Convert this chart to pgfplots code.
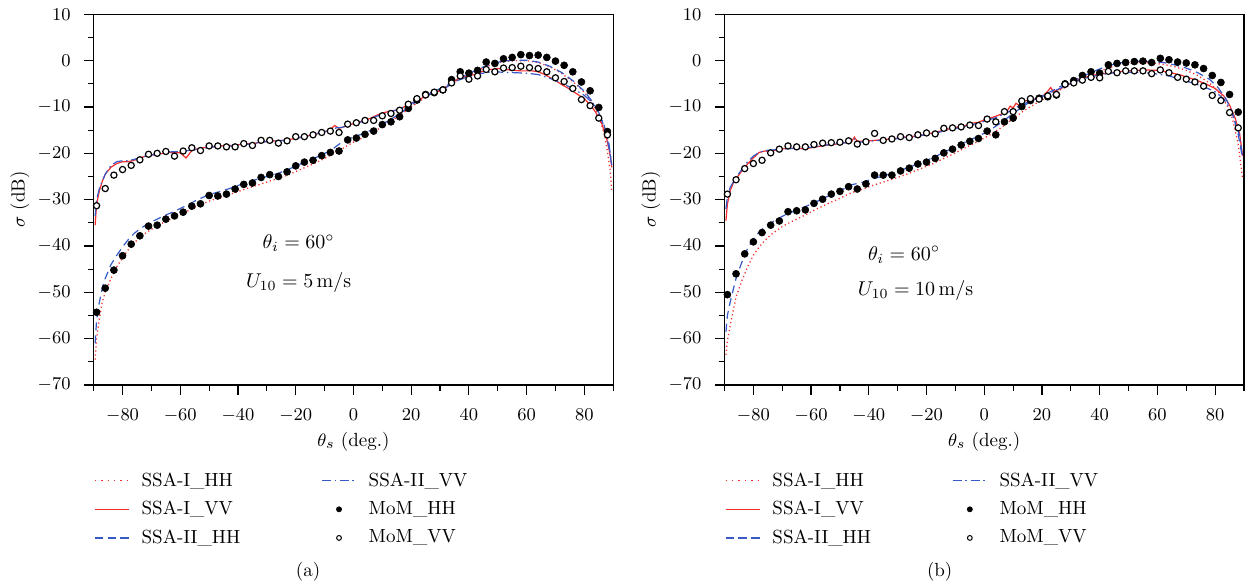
\documentclass[border=0pt]{standalone}
\usepackage{pgfplots}
\pgfplotsset{compat=1.18}
\definecolor{myred}{RGB}{245,45,45}
\definecolor{myblue}{RGB}{55,90,200}
\pgfplotsset{
  panel/.style={
    scale only axis, width=259.75pt, height=185.35pt,
    xmin=-90, xmax=90, ymin=-70, ymax=10,
    xtick={-80,-60,...,80}, minor xtick={-90,-70,...,90},
    ytick={-70,-60,...,10}, minor ytick={-65,-55,...,5},
    tick align=outside, tick pos=left,
    major tick length=5pt, minor tick length=3pt,
    every tick/.append style={black, line width=0.6pt},
    axis line style={line width=0.6pt},
    tick label style={font=\fontsize{9.5}{11}\selectfont},
    xticklabel style={yshift=-3.5pt},
    yticklabel style={xshift=-3pt},
    label style={font=\fontsize{9.5}{11}\selectfont},
    xlabel={$\theta_s$ (deg.)}, ylabel={$\sigma$ (dB)},
    xlabel style={at={([yshift=-28.5pt]axis description cs:0.5,0)}, anchor=center},
    ylabel style={at={([xshift=-36.85pt]axis description cs:0,0.5)}, anchor=center},
    legend columns=2, legend cell align=left,
    legend style={draw=none, fill=none, inner sep=0pt,
      at={(axis description cs:0,0)}, anchor=north west, yshift=-41.5pt,
      font=\fontsize{9.5}{11}\selectfont, row sep=2pt,
      /tikz/every odd column/.append style={column sep=4pt},
      /tikz/every even column/.append style={column sep=38.5pt}},
  },
  ssaIhh/.style={color=myred, line width=0.65pt, dash pattern=on 0.6pt off 1.4pt},
  ssaIvv/.style={color=myred, line width=0.6pt, solid},
  ssaIIhh/.style={color=myblue, line width=0.6pt, dash pattern=on 4pt off 2.5pt},
  ssaIIvv/.style={color=myblue, line width=0.6pt, dash pattern=on 5pt off 1.8pt on 0.8pt off 1.8pt},
  momhh/.style={only marks, mark=*, mark size=1.75pt, mark options={fill=black, draw=black, line width=0.3pt, solid}},
  momvv/.style={only marks, mark=*, mark size=1.55pt, mark options={fill=white, draw=black, line width=0.6pt, solid}},
  mylegend/.code={
    \addlegendimage{legend image code/.code={\path[draw=none] (0cm,0cm); \draw[draw=myred, line width=0.7pt, dash pattern=on 0.7pt off 2.5pt] (0cm,0cm) -- (0.6cm,0cm); \draw[draw=myred, line width=0.7pt, dash pattern=on 0.7pt off 2.5pt] (0cm,0cm) -- (0.6cm,0cm);}}\addlegendentry{SSA-I\_HH}
    \addlegendimage{legend image code/.code={\path[draw=none] (0cm,0cm); \draw[draw=myblue, line width=0.6pt, dash pattern=on 4.5pt off 1.8pt on 0.8pt off 1.8pt] (0cm,0cm) -- (0.6cm,0cm); \draw[draw=myblue, line width=0.6pt, dash pattern=on 4.5pt off 1.8pt on 0.8pt off 1.8pt] (0cm,0cm) -- (0.6cm,0cm);}}\addlegendentry{SSA-II\_VV}
    \addlegendimage{legend image code/.code={\path[draw=none] (0cm,0cm); \draw[draw=myred, line width=0.65pt] (0cm,0cm) -- (0.6cm,0cm); \draw[draw=myred, line width=0.65pt] (0cm,0cm) -- (0.6cm,0cm);}}\addlegendentry{SSA-I\_VV}
    \addlegendimage{only marks, mark=*, mark size=1.25pt, mark options={fill=black}}\addlegendentry{MoM\_HH}
    \addlegendimage{legend image code/.code={\path[draw=none] (0cm,0cm); \draw[draw=myblue, line width=0.6pt, dash pattern=on 4.2pt off 2.2pt] (0cm,0cm) -- (0.6cm,0cm); \draw[draw=myblue, line width=0.6pt, dash pattern=on 4.2pt off 2.2pt] (0cm,0cm) -- (0.6cm,0cm);}}\addlegendentry{SSA-II\_HH}
    \addlegendimage{only marks, mark=*, mark size=1.2pt, mark options={fill=white, draw=black, line width=0.5pt}}\addlegendentry{MoM\_VV}
  },
}
\begin{document}
\begin{tikzpicture}
\path[use as bounding box] (-46.85pt,-100.5pt) rectangle (578.65pt,192.5pt);
% ---------------- panel (a)
\begin{axis}[panel, name=a, at={(0pt,0pt)}, anchor=south west]
\addplot[ssaIhh, forget plot] coordinates {
(-89.5,-64.5)(-89,-60)(-88,-55.5)(-87,-52)(-86,-50)(-84,-47)(-82,-44.5)(-80,-42.5)(-78,-40.8)(-76,-39.3)(-74,-38.2)(-72,-37.2)(-70,-36.4)(-66,-35.0)(-62,-33.8)(-58,-32.6)(-54,-31.4)(-50,-30.3)(-46,-29.5)(-42,-28.7)(-38,-27.8)(-34,-27.0)(-30,-26.2)(-26,-25.4)(-22,-24.5)(-18,-23.4)(-14,-22.3)(-10,-21.1)(-6,-19.8)(-2,-18.3)(0,-17.6)(4,-16.4)(8,-15.0)(12,-13.5)(16,-11.8)(20,-10.0)(24,-8.3)(28,-6.9)(32,-5.6)(36,-4.2)(40,-3.0)(44,-1.8)(48,-0.8)(52,-0.2)(56,0.0)(60,0.0)(64,-0.4)(68,-1.3)(72,-2.7)(76,-4.5)(80,-6.8)(83,-9.3)(85,-11.8)(87,-16)(88,-19.5)(89,-24)(89.5,-28.3)};
\addplot[ssaIvv, forget plot] coordinates {
(-89.5,-35.5)(-89,-31)(-88,-28)(-87,-26)(-86,-24.5)(-84,-23)(-82,-22.2)(-80,-21.8)(-78,-21.8)(-76,-21.5)(-74,-21.0)(-72,-20.6)(-70,-20.4)(-68,-20.2)(-66,-20.0)(-64,-19.8)(-62,-19.8)(-60,-19.9)(-58,-21.0)(-56,-19.4)(-54,-19.0)(-50,-18.6)(-46,-18.4)(-42,-18.3)(-38,-18.0)(-34,-17.8)(-30,-17.4)(-26,-17.3)(-22,-17.0)(-18,-16.5)(-14,-16.0)(-10,-15.4)(-8,-14.8)(-6.5,-14.0)(-5,-14.6)(-2,-14.0)(0,-13.6)(2,-13.2)(4,-12.9)(6,-12.4)(8,-11.8)(10,-11.3)(12,-11.0)(14,-10.8)(16,-10.5)(18,-9.8)(20,-9.2)(22,-8.6)(24,-8.0)(26,-7.4)(28,-6.9)(30,-6.5)(32,-5.8)(34,-4.9)(36,-4.0)(38,-3.5)(40,-3.2)(42,-3.0)(44,-2.5)(46,-2.0)(48,-1.9)(50,-1.7)(52,-1.8)(54,-2.0)(56,-2.1)(58,-2.2)(60,-2.2)(62,-2.2)(64,-2.4)(66,-2.9)(68,-3.6)(70,-4.3)(72,-5.1)(74,-5.8)(76,-6.6)(78,-7.4)(80,-8.2)(82,-9.5)(84,-11.2)(86,-13.5)(87,-15.3)(88,-17.5)(89,-20.5)(89.5,-23)};
\addplot[ssaIIhh, forget plot] coordinates {
(-89.5,-61)(-89,-56)(-88,-52)(-87,-49)(-86,-47)(-85,-45.5)(-84,-44)(-82,-42)(-80,-40.2)(-78,-38.6)(-76,-37.3)(-74,-36.3)(-72,-35.5)(-70,-34.8)(-66,-33.6)(-62,-32.5)(-58,-31.3)(-54,-30.0)(-50,-28.9)(-46,-28.2)(-42,-27.4)(-38,-26.5)(-34,-25.7)(-30,-25.0)(-26,-24.3)(-22,-23.3)(-18,-22.2)(-14,-21.2)(-10,-20.0)(-8,-19.5)(-6,-18.5)(-4,-17.6)(-2,-17.0)(0,-16.5)(4,-15.6)(8,-14.5)(12,-13.0)(16,-11.5)(20,-9.6)(24,-8.0)(28,-6.6)(32,-5.5)(36,-4.0)(40,-2.8)(44,-1.6)(48,-0.6)(52,-0.1)(56,0.1)(60,0.1)(64,-0.3)(68,-1.2)(72,-2.5)(76,-4.3)(80,-6.6)(83,-9.0)(85,-11.2)(87,-14.5)(88,-17)(89,-20.5)(89.5,-23)};
\addplot[ssaIIvv, forget plot] coordinates {
(-89.5,-33.5)(-89,-30)(-88,-27.5)(-86,-24.5)(-84,-22.6)(-82,-21.8)(-80,-21.6)(-78,-21.6)(-76,-21.3)(-72,-20.6)(-68,-20.1)(-64,-19.7)(-60,-19.6)(-56,-19.3)(-52,-18.9)(-48,-18.6)(-44,-18.5)(-40,-18.3)(-36,-18.0)(-32,-17.6)(-28,-17.4)(-24,-17.2)(-20,-16.8)(-16,-16.3)(-12,-15.6)(-8,-15.0)(-6,-14.5)(-4,-14.4)(0,-13.7)(4,-13.0)(8,-12.0)(12,-11.2)(16,-10.4)(20,-9.2)(24,-8.0)(28,-6.9)(32,-5.8)(36,-4.3)(40,-3.4)(44,-2.8)(48,-2.4)(52,-2.5)(56,-2.6)(60,-2.7)(64,-3.0)(68,-3.8)(72,-4.8)(76,-6.0)(80,-7.5)(83,-9.2)(85,-11.2)(87,-14.2)(88.5,-17.8)(89.5,-22.5)};
\addplot[momhh, forget plot] coordinates {
(-89,-54.3)(-86,-49.1)(-83,-45.2)(-80,-42.1)(-77,-39.6)(-74,-37.8)(-71,-35.7)(-68,-35.5)(-65,-34.2)(-62,-33.5)(-59,-32.7)(-56,-31.4)(-53,-30.9)(-50,-29.1)(-47,-29.2)(-44,-28.8)(-41,-27.7)(-38,-26.7)(-35,-26.4)(-32,-25.2)(-29,-24.6)(-26,-25.0)(-23,-24.0)(-20,-22.7)(-17,-21.9)(-14,-21.5)(-11,-20.5)(-8,-19.8)(-5,-19.5)(-2,-17.1)(1,-16.7)(4,-15.9)(7,-15.2)(10,-13.8)(13,-13.2)(16,-12.1)(19,-10.3)(22,-8.5)(25,-7.3)(28,-6.9)(31,-6.3)(34,-4.1)(37,-2.4)(40,-2.7)(43,-2.1)(46,-0.3)(49,-0.6)(52,0.4)(55,0.7)(58,1.3)(61,1.1)(64,1.2)(67,0.7)(70,-0.1)(73,-1.0)(76,-2.4)(79,-4.6)(82,-6.5)(85,-10.1)(88,-15.3)};
\addplot[momvv, forget plot] coordinates {
(-89,-31.3)(-86,-27.6)(-83,-24.7)(-80,-23.5)(-77,-22.6)(-74,-21.4)(-71,-20.2)(-68,-20.0)(-65,-19.6)(-62,-20.6)(-59,-19.5)(-56,-18.8)(-53,-19.4)(-50,-18.4)(-47,-18.4)(-44,-18.6)(-41,-18.6)(-38,-17.9)(-35,-18.3)(-32,-17.2)(-29,-17.2)(-26,-17.8)(-23,-17.3)(-20,-16.4)(-17,-16.4)(-14,-16.0)(-11,-15.5)(-8,-15.2)(-5,-15.5)(-2,-13.7)(1,-13.4)(4,-12.9)(7,-12.9)(10,-11.9)(13,-11.4)(16,-10.7)(19,-9.4)(22,-8.2)(25,-7.4)(28,-6.8)(31,-6.3)(34,-4.8)(37,-3.3)(40,-4.0)(43,-3.3)(46,-1.9)(49,-2.4)(52,-1.6)(55,-1.5)(58,-1.2)(61,-1.5)(64,-1.7)(67,-2.4)(70,-3.7)(73,-4.5)(76,-6.0)(79,-8.4)(82,-9.7)(85,-12.4)(88,-16.0)};
\pgfplotsset{mylegend}
\node[font=\fontsize{10}{12}\selectfont] at (axis cs:-19,-39.4) {$\theta_i = 60^\circ$};
\node[font=\fontsize{10}{12}\selectfont] at (axis cs:-19,-47.8) {$U_{10} = 5\,\mathrm{m/s}$};
\end{axis}
\node[font=\fontsize{9.5}{11}\selectfont] at ([xshift=107.15pt,yshift=-93.5pt]a.south west) {(a)};
% ---------------- panel (b)
\begin{axis}[panel, name=b, at={(315.4pt,0pt)}, anchor=south west]
\addplot[ssaIhh, forget plot] coordinates {
(-89.5,-63.5)(-89,-60.5)(-88,-57)(-86,-51)(-84,-47.5)(-82,-44.5)(-80,-42)(-78,-40.2)(-76,-38.8)(-74,-37.6)(-70,-35.8)(-66,-34.5)(-62,-33.3)(-58,-32.0)(-54,-30.8)(-50,-29.7)(-46,-28.5)(-42,-27.7)(-38,-26.8)(-34,-26.0)(-30,-25.2)(-26,-24.3)(-22,-23.3)(-18,-22.3)(-14,-21.1)(-10,-19.9)(-6,-18.6)(-2,-17.4)(2,-16.0)(6,-14.4)(10,-12.5)(14,-10.7)(18,-9.2)(22,-7.8)(26,-6.4)(30,-5.2)(34,-3.9)(38,-2.8)(42,-1.8)(46,-1.0)(50,-0.6)(54,-0.4)(58,-0.5)(62,-0.8)(66,-1.3)(70,-2.1)(74,-3.2)(78,-4.8)(81,-6.6)(84,-9.5)(86,-12.5)(88,-18)(89.5,-25.5)};
\addplot[ssaIvv, forget plot] coordinates {
(-89.5,-34.5)(-89,-31)(-88,-28)(-87,-26.5)(-86,-25.5)(-84,-23.8)(-82,-22.3)(-80,-21.0)(-78,-19.8)(-76,-19.5)(-74,-19.6)(-72,-19.3)(-70,-19.0)(-66,-18.9)(-62,-19.0)(-58,-18.6)(-54,-18.2)(-50,-17.9)(-46,-17.5)(-45,-16.5)(-44,-17.4)(-40,-17.3)(-36,-17.1)(-32,-16.9)(-28,-16.5)(-24,-16.3)(-20,-15.9)(-16,-15.3)(-14,-15.0)(-12,-14.7)(-10,-14.4)(-8,-14.3)(-6,-13.9)(-4,-13.5)(-2,-13.3)(0,-12.8)(2,-12.4)(4,-12.0)(6,-11.5)(8,-10.8)(9,-9.8)(10,-10.2)(11,-9.2)(12,-9.6)(14,-8.7)(16,-8.5)(18,-8.2)(20,-7.8)(22,-6.6)(23,-5.8)(24,-6.6)(26,-6.2)(28,-5.5)(30,-4.9)(32,-4.3)(34,-3.8)(36,-3.4)(38,-3.1)(40,-2.9)(44,-2.6)(48,-2.3)(52,-2.1)(56,-2.0)(60,-2.1)(64,-2.5)(68,-3.1)(72,-3.9)(76,-4.8)(80,-6.0)(83,-7.6)(85,-9.6)(87,-12.5)(88.5,-15.8)(89.5,-20.6)};
\addplot[ssaIIhh, forget plot] coordinates {
(-89.5,-58.5)(-89,-55)(-88,-52)(-86,-47)(-84,-43.5)(-82,-40.5)(-80,-38.5)(-78,-37)(-76,-35.8)(-74,-35)(-70,-33.6)(-66,-32.5)(-62,-31.5)(-58,-30.4)(-54,-29.2)(-50,-28.1)(-46,-26.8)(-42,-26.2)(-38,-25.4)(-34,-24.7)(-30,-23.9)(-26,-23.0)(-22,-22.0)(-18,-21.0)(-14,-19.8)(-10,-18.6)(-6,-17.4)(-2,-16.3)(2,-15.0)(6,-13.3)(10,-11.4)(14,-9.6)(18,-8.2)(22,-7.0)(26,-5.7)(30,-4.6)(34,-3.4)(38,-2.3)(42,-1.3)(46,-0.6)(50,-0.2)(54,-0.1)(58,-0.2)(62,-0.4)(66,-0.9)(70,-1.6)(74,-2.6)(78,-4.0)(81,-5.8)(84,-8.5)(86,-11.3)(88,-16)(89.5,-21)};
\addplot[ssaIIvv, forget plot] coordinates {
(-89.5,-32)(-89,-29.5)(-88,-27.3)(-86,-25.2)(-84,-23.5)(-82,-21.8)(-80,-20.6)(-78,-19.8)(-76,-19.4)(-72,-19.2)(-68,-19.0)(-64,-18.9)(-60,-18.7)(-56,-18.3)(-52,-18.0)(-48,-17.7)(-45,-16.9)(-43,-17.6)(-40,-17.4)(-36,-17.2)(-32,-17.0)(-28,-16.6)(-24,-16.4)(-20,-16.0)(-16,-15.5)(-12,-14.9)(-8,-14.4)(-4,-13.8)(0,-13.1)(4,-12.3)(8,-11.2)(12,-9.8)(16,-8.7)(20,-7.8)(24,-6.6)(28,-5.5)(32,-4.4)(36,-3.6)(40,-3.1)(44,-2.7)(48,-2.5)(52,-2.5)(56,-2.6)(60,-2.9)(64,-3.3)(68,-4.0)(72,-4.8)(76,-5.6)(80,-6.7)(83,-8.3)(85,-10.2)(87,-13.0)(88.5,-16.3)(89.5,-21)};
\addplot[momhh, forget plot] coordinates {
(-89,-50.5)(-86,-46.0)(-83,-41.7)(-80,-39.1)(-77,-37.1)(-74,-35.5)(-71,-34.6)(-68,-32.6)(-65,-32.4)(-62,-32.2)(-59,-30.8)(-56,-29.9)(-53,-28.8)(-50,-28.2)(-47,-27.2)(-44,-27.7)(-41,-26.6)(-38,-24.7)(-35,-24.7)(-32,-24.7)(-29,-23.8)(-26,-23.2)(-23,-22.3)(-20,-21.9)(-17,-21.1)(-14,-19.9)(-11,-19.1)(-8,-18.2)(-5,-17.4)(-2,-16.8)(1,-15.2)(4,-16.0)(7,-13.2)(10,-12.4)(13,-9.9)(16,-8.6)(19,-8.1)(22,-7.8)(25,-7.4)(28,-5.0)(31,-4.3)(34,-3.2)(37,-2.4)(40,-2.7)(43,-0.9)(46,-0.6)(49,-0.4)(52,-0.2)(55,-0.1)(58,-0.4)(61,0.5)(64,0.2)(67,-0.3)(70,-0.5)(73,-0.9)(76,-1.7)(79,-3.2)(82,-4.7)(85,-7.3)(88,-11.1)};
\addplot[momvv, forget plot] coordinates {
(-89,-28.8)(-86,-25.7)(-83,-23.3)(-80,-22.2)(-77,-21.5)(-74,-19.9)(-71,-19.1)(-68,-18.4)(-65,-18.6)(-62,-18.6)(-59,-18.1)(-56,-17.8)(-53,-17.7)(-50,-17.6)(-47,-17.3)(-44,-18.0)(-41,-17.5)(-38,-15.7)(-35,-17.2)(-32,-16.9)(-29,-16.4)(-26,-16.6)(-23,-16.0)(-20,-15.6)(-17,-15.8)(-14,-14.6)(-11,-14.5)(-8,-14.3)(-5,-13.9)(-2,-14.0)(1,-12.6)(4,-13.2)(7,-11.0)(10,-11.0)(13,-8.7)(16,-8.2)(19,-8.3)(22,-7.6)(25,-7.3)(28,-5.1)(31,-4.8)(34,-4.2)(37,-3.6)(40,-3.7)(43,-2.3)(46,-2.6)(49,-2.2)(52,-2.2)(55,-2.2)(58,-2.8)(61,-2.0)(64,-2.6)(67,-3.6)(70,-4.0)(73,-4.6)(76,-5.5)(79,-7.5)(82,-8.6)(85,-11.2)(88,-14.5)};
\pgfplotsset{mylegend}
\node[font=\fontsize{10}{12}\selectfont] at (axis cs:-27.8,-41.9) {$\theta_i = 60^\circ$};
\node[font=\fontsize{10}{12}\selectfont] at (axis cs:-23.8,-49.6) {$U_{10} = 10\,\mathrm{m/s}$};
\end{axis}
\node[font=\fontsize{9.5}{11}\selectfont] at ([xshift=107.6pt,yshift=-93.5pt]b.south west) {(b)};
\end{tikzpicture}
\end{document}
